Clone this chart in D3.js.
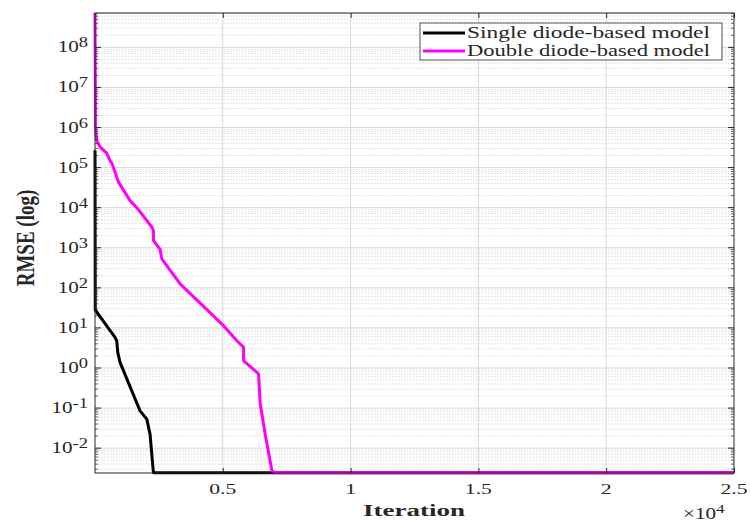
<!DOCTYPE html>
<html>
<head>
<meta charset="utf-8">
<script src="https://cdn.jsdelivr.net/npm/d3@7"></script>
<style>
  body { margin: 0; background: #fff; }
  svg text { font-family: "Liberation Serif", "Times New Roman", serif; fill: #262626; }
</style>
</head>
<body>
<div id="chart"></div>
<script>
// iterations / RMSE
var singleIter = [0, 10, 784, 850, 890, 980, 1763, 2026, 2155, 2222, 2285, 25000];
var singleRmse = [2.7e5, 28, 5.8, 4.8, 2.45, 1.38, 0.085, 0.053, 0.022, 0.0071, 0.00245, 0.00245];

var doubleIter = [0, 20, 67, 196, 458, 588, 654, 784, 913, 1371, 1634, 2222, 2284, 2290, 2547, 2613, 3330, 5027, 5552, 5810, 5815, 6335, 6398, 6465, 6660, 6923, 7052, 25000];
var doubleRmse = [7.2e8, 1e6, 4.8e5, 3.3e5, 2.3e5, 1.5e5, 1.3e5, 7.8e4, 4.4e4, 1.5e4, 1.0e4, 3.3e3, 2.7e3, 1.5e3, 910, 530, 126, 11.4, 4.8, 3.3, 1.5, 0.78, 0.71, 0.126, 0.022, 0.0027, 0.00245, 0.00245];

var xTicks = [5000, 10000, 15000, 20000, 25000];
var xTickLabels = ["0.5", "1", "1.5", "2", "2.5"];
var yExps = [-2, -1, 0, 1, 2, 3, 4, 5, 6, 7, 8];

var seriesNames = ["Single diode-based model", "Double diode-based model"];
var seriesColors = ["#000000", "#ff00ff"];

var W = 751, H = 522;
var margin = {top: 13, right: 17, bottom: 49, left: 95};
var w = W - margin.left - margin.right,
    h = H - margin.top - margin.bottom;
var sx = 1.32; // the original figure is stretched sideways

var svg = d3.select("#chart").append("svg")
    .attr("width", W).attr("height", H);

var g = svg.append("g")
    .attr("transform", "translate(" + margin.left + "," + margin.top + ")");

var x = d3.scaleLinear().domain([0, 25000]).range([0, w]);
var y = d3.scaleLog().domain([0.0024, 7.2e8]).range([h, 0]);

// minor grid (2..9 x 10^k)
var minors = [];
for (var k = -3; k <= 8; k++) {
  for (var m = 2; m <= 9; m++) {
    var v = m * Math.pow(10, k);
    if (v > y.domain()[0] && v < y.domain()[1]) minors.push(v);
  }
}
g.selectAll(".minor").data(minors).enter().append("line")
    .attr("x1", 0).attr("x2", w)
    .attr("y1", function(d) { return y(d); })
    .attr("y2", function(d) { return y(d); })
    .attr("stroke", "#d4d4d4")
    .attr("stroke-width", 0.8)
    .attr("stroke-dasharray", "1.5,1.5");

// major grid
g.selectAll(".hgrid").data(yExps).enter().append("line")
    .attr("x1", 0).attr("x2", w)
    .attr("y1", function(d) { return y(Math.pow(10, d)); })
    .attr("y2", function(d) { return y(Math.pow(10, d)); })
    .attr("stroke", "#d8d8d8").attr("stroke-width", 1);
g.selectAll(".vgrid").data(xTicks.slice(0, 4)).enter().append("line")
    .attr("y1", 0).attr("y2", h)
    .attr("x1", function(d) { return x(d); })
    .attr("x2", function(d) { return x(d); })
    .attr("stroke", "#d8d8d8").attr("stroke-width", 1);

// curves
var line = d3.line()
    .x(function(d) { return x(d[0]); })
    .y(function(d) { return y(d[1]); });

var singleData = singleIter.map(function(d, i) { return [d, singleRmse[i]]; });
var doubleData = doubleIter.map(function(d, i) { return [d, doubleRmse[i]]; });

g.append("path").datum(singleData)
    .attr("d", line).attr("fill", "none")
    .attr("stroke", seriesColors[0]).attr("stroke-width", 3)
    .attr("stroke-linejoin", "round");
g.append("path").datum(doubleData)
    .attr("d", line).attr("fill", "none")
    .attr("stroke", seriesColors[1]).attr("stroke-width", 3)
    .attr("stroke-linejoin", "round");

// box + ticks
var axisColor = "#262626";
g.append("rect").attr("x", 0).attr("y", 0).attr("width", w).attr("height", h)
    .attr("fill", "none").attr("stroke", axisColor).attr("stroke-width", 1);

var gx = g.append("g").attr("transform", "translate(0," + h + ")")
    .call(d3.axisBottom(x).tickValues(xTicks).tickSizeInner(-5).tickSizeOuter(0).tickFormat(""));
gx.select(".domain").remove();
gx.selectAll("line").attr("stroke", axisColor);

var gxt = g.append("g")
    .call(d3.axisTop(x).tickValues(xTicks).tickSizeInner(-5).tickSizeOuter(0).tickFormat(""));
gxt.select(".domain").remove();
gxt.selectAll("line").attr("stroke", axisColor);

// x tick labels
g.selectAll(".xlab").data(xTicks).enter().append("text")
    .attr("transform", function(d) { return "translate(" + x(d) + "," + (h + 21) + ") scale(1.45,1)"; })
    .attr("text-anchor", "middle").attr("font-size", 15)
    .text(function(d, i) { return xTickLabels[i]; });

// y ticks, left and right
[0, w].forEach(function(px) {
  var dir = px === 0 ? 1 : -1;
  g.selectAll(null).data(yExps).enter().append("line")
      .attr("x1", px).attr("x2", px + dir * 6)
      .attr("y1", function(d) { return y(Math.pow(10, d)); })
      .attr("y2", function(d) { return y(Math.pow(10, d)); })
      .attr("stroke", axisColor);
  g.selectAll(null).data(minors).enter().append("line")
      .attr("x1", px).attr("x2", px + dir * 3)
      .attr("y1", function(d) { return y(d); })
      .attr("y2", function(d) { return y(d); })
      .attr("stroke", axisColor).attr("stroke-width", 0.7);
});

// y tick labels 10^k
var yl = g.selectAll(".ylab").data(yExps).enter().append("text")
    .attr("transform", function(d) { return "translate(-7," + (y(Math.pow(10, d)) + 5) + ") scale(" + sx + ",1)"; })
    .attr("text-anchor", "end").attr("font-size", 16);
yl.append("tspan").text("10");
yl.append("tspan").attr("font-size", 14).attr("dy", -5)
    .text(function(d) { return d < 0 ? "-" + (-d) : d; });

// axis titles
svg.append("text")
    .attr("x", 414).attr("y", 516)
    .attr("text-anchor", "middle").attr("font-size", 17).attr("font-weight", "bold")
    .attr("textLength", 102).attr("lengthAdjust", "spacingAndGlyphs")
    .text("Iteration");
var ex = svg.append("text")
    .attr("transform", "translate(683,519) scale(" + sx + ",1)")
    .attr("font-size", 16);
ex.append("tspan").text("\u00d710");
ex.append("tspan").attr("font-size", 13).attr("dy", -6).text("4");

svg.append("text")
    .attr("transform", "translate(34," + 238 + ") scale(" + sx + ",1) rotate(-90)")
    .attr("text-anchor", "middle").attr("font-size", 19).attr("font-weight", "bold")
    .text("RMSE (log)");

// legend
var lg = svg.append("g").attr("transform", "translate(420,23)");
lg.append("rect").attr("width", 302).attr("height", 37)
    .attr("fill", "#fff").attr("stroke", axisColor).attr("stroke-width", 0.8);
seriesNames.forEach(function(name, i) {
  var yy = 10 + i * 18;
  lg.append("line").attr("x1", 3).attr("x2", 45).attr("y1", yy).attr("y2", yy)
      .attr("stroke", seriesColors[i]).attr("stroke-width", 3);
  lg.append("text").attr("x", 47).attr("y", yy + 5)
      .attr("font-size", 16).attr("fill", "#000")
      .attr("textLength", 243).attr("lengthAdjust", "spacingAndGlyphs")
      .text(name);
});
</script>
</body>
</html>
